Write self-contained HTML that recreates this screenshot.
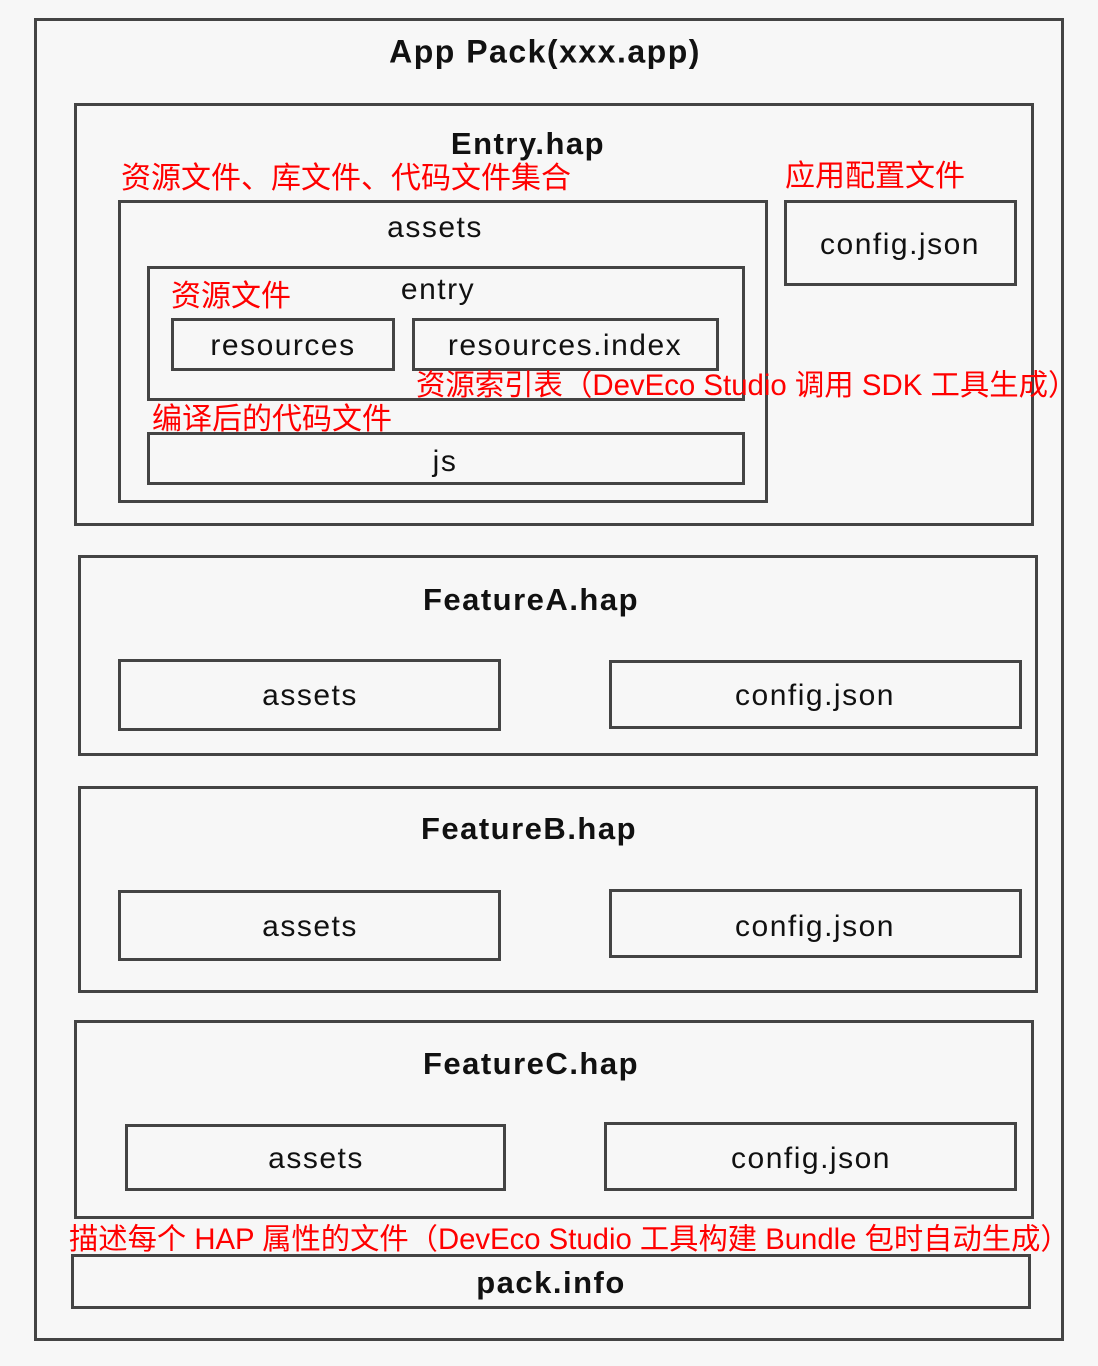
<!DOCTYPE html>
<html><head><meta charset="utf-8"><style>
body{margin:0;width:1098px;height:1366px;background:#f7f7f7;position:relative;overflow:hidden;font-family:"Liberation Sans","Noto Sans CJK SC",sans-serif;}
.b{position:absolute;border:3px solid #444;box-sizing:border-box;}
.t{position:absolute;color:#111;white-space:nowrap;transform:translate(-50%,-50%);font-size:30px;letter-spacing:1.5px;}
.bd{font-weight:bold;font-size:31px;letter-spacing:1.5px;}
.r{position:absolute;color:#f00;white-space:nowrap;font-size:29.4px;line-height:1;}
</style></head><body>
<div class="b" style="left:34px;top:18px;width:1030px;height:1323px"></div>
<div class="t bd" style="left:545px;top:52px;font-size:32px">App Pack(xxx.app)</div>

<div class="b" style="left:74px;top:103px;width:960px;height:423px"></div>
<div class="t bd" style="left:528px;top:144px">Entry.hap</div>
<div class="r" style="left:121px;top:164px;font-size:30px">资源文件、库文件、代码文件集合</div>
<div class="r" style="left:785px;top:162px;font-size:30px">应用配置文件</div>
<div class="b" style="left:118px;top:200px;width:650px;height:303px"></div>
<div class="t" style="left:435px;top:228px">assets</div>
<div class="b" style="left:147px;top:266px;width:598px;height:135px"></div>
<div class="t" style="left:438px;top:290px">entry</div>
<div class="r" style="left:171px;top:282px;font-size:30px">资源文件</div>
<div class="b" style="left:171px;top:318px;width:224px;height:53px"></div>
<div class="t" style="left:283px;top:346px">resources</div>
<div class="b" style="left:412px;top:318px;width:307px;height:53px"></div>
<div class="t" style="left:565px;top:346px">resources.index</div>
<div class="r" style="left:416px;top:371px">资源索引表（DevEco Studio 调用 SDK 工具生成）</div>
<div class="r" style="left:152px;top:405px;font-size:30px">编译后的代码文件</div>
<div class="b" style="left:147px;top:432px;width:598px;height:53px"></div>
<div class="t" style="left:445px;top:462px">js</div>
<div class="b" style="left:784px;top:200px;width:233px;height:86px"></div>
<div class="t" style="left:900px;top:245px">config.json</div>

<div class="b" style="left:78px;top:555px;width:960px;height:201px"></div>
<div class="t bd" style="left:531px;top:600px">FeatureA.hap</div>
<div class="b" style="left:118px;top:659px;width:383px;height:72px"></div>
<div class="t" style="left:310px;top:696px">assets</div>
<div class="b" style="left:609px;top:660px;width:413px;height:69px"></div>
<div class="t" style="left:815px;top:696px">config.json</div>

<div class="b" style="left:78px;top:786px;width:960px;height:207px"></div>
<div class="t bd" style="left:529px;top:829px">FeatureB.hap</div>
<div class="b" style="left:118px;top:890px;width:383px;height:71px"></div>
<div class="t" style="left:310px;top:927px">assets</div>
<div class="b" style="left:609px;top:889px;width:413px;height:69px"></div>
<div class="t" style="left:815px;top:927px">config.json</div>

<div class="b" style="left:74px;top:1020px;width:960px;height:199px"></div>
<div class="t bd" style="left:531px;top:1064px">FeatureC.hap</div>
<div class="b" style="left:125px;top:1124px;width:381px;height:67px"></div>
<div class="t" style="left:316px;top:1159px">assets</div>
<div class="b" style="left:604px;top:1122px;width:413px;height:69px"></div>
<div class="t" style="left:811px;top:1159px">config.json</div>

<div class="r" style="left:69px;top:1225px;font-size:29.3px">描述每个 HAP 属性的文件（DevEco Studio 工具构建 Bundle 包时自动生成）</div>
<div class="b" style="left:71px;top:1254px;width:960px;height:55px"></div>
<div class="t bd" style="left:551px;top:1283px">pack.info</div>
</body></html>
